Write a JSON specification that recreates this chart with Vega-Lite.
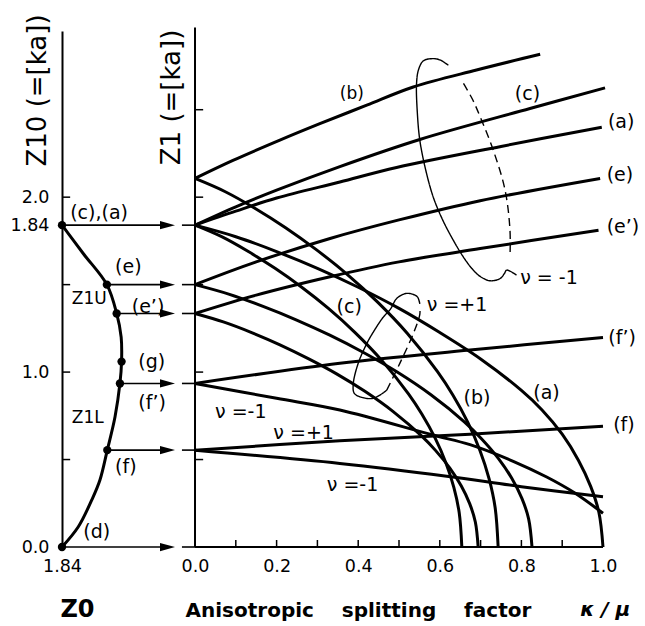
{
  "$schema": "https://vega.github.io/schema/vega-lite/v6.json",
  "autosize": {"type": "none"},
  "padding": {"left": 62, "top": 31, "right": 42, "bottom": 79},
  "width": 541,
  "height": 516,
  "background": "white",
  "config": {"view": {"stroke": null}, "font": "DejaVu Sans", "text": {"font": "DejaVu Sans", "color": "black"}},
  "resolve": {"axis": {"x": "independent", "y": "independent"}},
  "datasets": {
    "curves": [
      {"id":"z","x":-0.326,"y":1.84},{"id":"z","x":-0.274,"y":1.678},{"id":"z","x":-0.216,"y":1.5},{"id":"z","x":-0.192,"y":1.335},{"id":"z","x":-0.181,"y":1.2},{"id":"z","x":-0.18,"y":1.06},{"id":"z","x":-0.184,"y":0.935},{"id":"z","x":-0.196,"y":0.745},{"id":"z","x":-0.215,"y":0.554},{"id":"z","x":-0.233,"y":0.383},{"id":"z","x":-0.253,"y":0.269},{"id":"z","x":-0.286,"y":0.116},{"id":"z","x":-0.326,"y":0},
      {"id":"bu","x":0,"y":2.107},{"id":"bu","x":0.093,"y":2.21},{"id":"bu","x":0.208,"y":2.326},{"id":"bu","x":0.306,"y":2.42},{"id":"bu","x":0.421,"y":2.526},{"id":"bu","x":0.535,"y":2.63},{"id":"bu","x":0.69,"y":2.727},{"id":"bu","x":0.846,"y":2.817},
      {"id":"cu","x":0,"y":1.84},{"id":"cu","x":0.1,"y":1.945},{"id":"cu","x":0.2,"y":2.04},{"id":"cu","x":0.355,"y":2.175},{"id":"cu","x":0.551,"y":2.33},{"id":"cu","x":0.821,"y":2.507},{"id":"cu","x":1.005,"y":2.625},
      {"id":"au","x":0,"y":1.84},{"id":"au","x":0.1,"y":1.92},{"id":"au","x":0.2,"y":1.995},{"id":"au","x":0.355,"y":2.087},{"id":"au","x":0.494,"y":2.17},{"id":"au","x":0.75,"y":2.29},{"id":"au","x":0.997,"y":2.4},
      {"id":"eu","x":0,"y":1.5},{"id":"eu","x":0.15,"y":1.63},{"id":"eu","x":0.331,"y":1.764},{"id":"eu","x":0.5,"y":1.87},{"id":"eu","x":0.699,"y":1.98},{"id":"eu","x":0.993,"y":2.107},
      {"id":"epu","x":0,"y":1.335},{"id":"epu","x":0.15,"y":1.44},{"id":"epu","x":0.331,"y":1.545},{"id":"epu","x":0.5,"y":1.63},{"id":"epu","x":0.699,"y":1.706},{"id":"epu","x":0.989,"y":1.811},
      {"id":"fpu","x":0,"y":0.935},{"id":"fpu","x":0.355,"y":1.05},{"id":"fpu","x":0.674,"y":1.126},{"id":"fpu","x":1.0,"y":1.198},
      {"id":"fu","x":0,"y":0.553},{"id":"fu","x":0.355,"y":0.607},{"id":"fu","x":0.674,"y":0.645},{"id":"fu","x":1.0,"y":0.691},
      {"id":"l1","x":0,"y":0.935},{"id":"l1","x":0.2,"y":0.85},{"id":"l1","x":0.355,"y":0.783},{"id":"l1","x":0.583,"y":0.64},{"id":"l1","x":0.674,"y":0.585},{"id":"l1","x":0.78,"y":0.49},{"id":"l1","x":0.862,"y":0.4},{"id":"l1","x":0.93,"y":0.31},{"id":"l1","x":1.0,"y":0.193},
      {"id":"l2","x":0,"y":0.553},{"id":"l2","x":0.355,"y":0.478},{"id":"l2","x":0.617,"y":0.405},{"id":"l2","x":0.8,"y":0.345},{"id":"l2","x":1.0,"y":0.287},
      {"id":"bd","x":0,"y":2.107},{"id":"bd","x":0.0743,"y":2.031},{"id":"bd","x":0.1486,"y":1.934},{"id":"bd","x":0.2229,"y":1.824},{"id":"bd","x":0.2972,"y":1.7},{"id":"bd","x":0.3715,"y":1.562},{"id":"bd","x":0.4458,"y":1.404},{"id":"bd","x":0.5201,"y":1.222},{"id":"bd","x":0.5944,"y":1.002},{"id":"bd","x":0.6316,"y":0.87},{"id":"bd","x":0.6687,"y":0.712},{"id":"bd","x":0.6984,"y":0.552},{"id":"bd","x":0.7207,"y":0.391},{"id":"bd","x":0.7356,"y":0.226},{"id":"bd","x":0.743,"y":0},
      {"id":"ad","x":0,"y":1.84},{"id":"ad","x":0.1,"y":1.774},{"id":"ad","x":0.2,"y":1.689},{"id":"ad","x":0.3,"y":1.593},{"id":"ad","x":0.4,"y":1.485},{"id":"ad","x":0.5,"y":1.364},{"id":"ad","x":0.6,"y":1.226},{"id":"ad","x":0.7,"y":1.075},{"id":"ad","x":0.8,"y":0.895},{"id":"ad","x":0.85,"y":0.785},{"id":"ad","x":0.9,"y":0.645},{"id":"ad","x":0.94,"y":0.495},{"id":"ad","x":0.97,"y":0.345},{"id":"ad","x":0.99,"y":0.197},{"id":"ad","x":1.0,"y":0},
      {"id":"cd","x":0,"y":1.84},{"id":"cd","x":0.0654,"y":1.774},{"id":"cd","x":0.1308,"y":1.689},{"id":"cd","x":0.1962,"y":1.593},{"id":"cd","x":0.2616,"y":1.485},{"id":"cd","x":0.327,"y":1.364},{"id":"cd","x":0.3924,"y":1.226},{"id":"cd","x":0.4578,"y":1.067},{"id":"cd","x":0.5232,"y":0.875},{"id":"cd","x":0.5559,"y":0.76},{"id":"cd","x":0.5886,"y":0.622},{"id":"cd","x":0.6148,"y":0.482},{"id":"cd","x":0.6344,"y":0.341},{"id":"cd","x":0.6475,"y":0.197},{"id":"cd","x":0.654,"y":0},
      {"id":"ed","x":0,"y":1.5},{"id":"ed","x":0.0826,"y":1.446},{"id":"ed","x":0.1652,"y":1.377},{"id":"ed","x":0.2478,"y":1.299},{"id":"ed","x":0.3304,"y":1.211},{"id":"ed","x":0.413,"y":1.112},{"id":"ed","x":0.4956,"y":1.0},{"id":"ed","x":0.5782,"y":0.87},{"id":"ed","x":0.6608,"y":0.714},{"id":"ed","x":0.7021,"y":0.619},{"id":"ed","x":0.7434,"y":0.507},{"id":"ed","x":0.7764,"y":0.393},{"id":"ed","x":0.8012,"y":0.278},{"id":"ed","x":0.8177,"y":0.161},{"id":"ed","x":0.826,"y":0},
      {"id":"epd","x":0,"y":1.335},{"id":"epd","x":0.0694,"y":1.287},{"id":"epd","x":0.1388,"y":1.226},{"id":"epd","x":0.2082,"y":1.156},{"id":"epd","x":0.2776,"y":1.077},{"id":"epd","x":0.347,"y":0.99},{"id":"epd","x":0.4164,"y":0.89},{"id":"epd","x":0.4858,"y":0.774},{"id":"epd","x":0.5552,"y":0.635},{"id":"epd","x":0.5899,"y":0.551},{"id":"epd","x":0.6246,"y":0.451},{"id":"epd","x":0.6524,"y":0.35},{"id":"epd","x":0.6732,"y":0.248},{"id":"epd","x":0.6871,"y":0.143},{"id":"epd","x":0.694,"y":0}
    ],
    "loops": [
      {"id":"bigs","s":"solid","x":0.621,"y":2.754},{"id":"bigs","s":"solid","x":0.6,"y":2.785},{"id":"bigs","s":"solid","x":0.583,"y":2.792},{"id":"bigs","s":"solid","x":0.56,"y":2.78},{"id":"bigs","s":"solid","x":0.548,"y":2.73},{"id":"bigs","s":"solid","x":0.543,"y":2.65},{"id":"bigs","s":"solid","x":0.545,"y":2.48},{"id":"bigs","s":"solid","x":0.551,"y":2.326},{"id":"bigs","s":"solid","x":0.565,"y":2.16},{"id":"bigs","s":"solid","x":0.584,"y":2.0},{"id":"bigs","s":"solid","x":0.607,"y":1.87},{"id":"bigs","s":"solid","x":0.633,"y":1.754},{"id":"bigs","s":"solid","x":0.66,"y":1.65},{"id":"bigs","s":"solid","x":0.682,"y":1.583},{"id":"bigs","s":"solid","x":0.7,"y":1.545},{"id":"bigs","s":"solid","x":0.723,"y":1.522},{"id":"bigs","s":"solid","x":0.748,"y":1.535},{"id":"bigs","s":"solid","x":0.758,"y":1.562},{"id":"bigs","s":"solid","x":0.764,"y":1.583},{"id":"bigs","s":"solid","x":0.788,"y":1.554},
      {"id":"bigd","s":"dash","x":0.658,"y":2.65},{"id":"bigd","s":"dash","x":0.68,"y":2.56},{"id":"bigd","s":"dash","x":0.699,"y":2.459},{"id":"bigd","s":"dash","x":0.731,"y":2.269},{"id":"bigd","s":"dash","x":0.76,"y":2.04},{"id":"bigd","s":"dash","x":0.772,"y":1.811},{"id":"bigd","s":"dash","x":0.772,"y":1.659},
      {"id":"sms","s":"solid","x":0.551,"y":1.39},{"id":"sms","s":"solid","x":0.545,"y":1.43},{"id":"sms","s":"solid","x":0.527,"y":1.449},{"id":"sms","s":"solid","x":0.513,"y":1.447},{"id":"sms","s":"solid","x":0.494,"y":1.42},{"id":"sms","s":"solid","x":0.479,"y":1.36},{"id":"sms","s":"solid","x":0.462,"y":1.316},{"id":"sms","s":"solid","x":0.44,"y":1.24},{"id":"sms","s":"solid","x":0.421,"y":1.163},{"id":"sms","s":"solid","x":0.4,"y":1.05},{"id":"sms","s":"solid","x":0.388,"y":0.935},{"id":"sms","s":"solid","x":0.39,"y":0.88},{"id":"sms","s":"solid","x":0.404,"y":0.859},{"id":"sms","s":"solid","x":0.437,"y":0.85},{"id":"sms","s":"solid","x":0.47,"y":0.897},
      {"id":"smd","s":"dash","x":0.47,"y":0.897},{"id":"smd","s":"dash","x":0.502,"y":1.05},{"id":"smd","s":"dash","x":0.535,"y":1.22},{"id":"smd","s":"dash","x":0.551,"y":1.33},{"id":"smd","s":"dash","x":0.551,"y":1.373}
    ],
    "arrows": [
      {"x":-0.326,"y":1.84},{"x":-0.216,"y":1.5},{"x":-0.192,"y":1.335},{"x":-0.184,"y":0.935},{"x":-0.215,"y":0.554},{"x":-0.326,"y":0}
    ],
    "dots": [
      {"x":-0.326,"y":1.84},{"x":-0.216,"y":1.5},{"x":-0.192,"y":1.335},{"x":-0.18,"y":1.06},{"x":-0.184,"y":0.935},{"x":-0.215,"y":0.554},{"x":-0.326,"y":0}
    ],
    "rticks": [{"y":0.5},{"y":1.0},{"y":1.5},{"y":2.0},{"y":2.5}],
    "lticks": [{"y":0.5},{"y":1.0},{"y":1.5},{"y":2.0}],
    "bticks": [{"x":0.1},{"x":0.2},{"x":0.3},{"x":0.4},{"x":0.5},{"x":0.6},{"x":0.7},{"x":0.8},{"x":0.9},{"x":1.0}],
    "labels": [
      {"t":"(c)","x":0.784,"y":2.592},{"t":"(a)","x":1.012,"y":2.43},{"t":"(e)","x":1.009,"y":2.126},{"t":"(e’)","x":1.009,"y":1.83},
      {"t":"ν = -1","x":0.797,"y":1.537},{"t":"(c)","x":0.347,"y":1.37},{"t":"ν =+1","x":0.568,"y":1.383},{"t":"(f’)","x":1.013,"y":1.194},
      {"t":"(b)","x":0.658,"y":0.85},{"t":"(a)","x":0.829,"y":0.878},{"t":"(f)","x":1.025,"y":0.697},
      {"t":"ν =-1","x":0.049,"y":0.773},{"t":"ν =+1","x":0.192,"y":0.653},{"t":"ν =-1","x":0.323,"y":0.354},
      {"t":"(c),(a)","x":-0.306,"y":1.909},{"t":"(e)","x":-0.196,"y":1.6},{"t":"(e’)","x":-0.155,"y":1.373},{"t":"(g)","x":-0.139,"y":1.059},{"t":"(f’)","x":-0.139,"y":0.821},{"t":"(f)","x":-0.196,"y":0.459},{"t":"(d)","x":-0.274,"y":0.087}
    ],
    "small": [
      {"t":"(b)","x":0.355,"y":2.589},{"t":"Z1U","x":-0.302,"y":1.415},{"t":"Z1L","x":-0.302,"y":0.735}
    ]
  },
  "layer": [
    {
      "data": {"name": "curves"},
      "mark": {"type": "line", "color": "black", "strokeWidth": 3, "interpolate": "catmull-rom"},
      "encoding": {
        "x": {"field": "x", "type": "quantitative",
          "scale": {"domain": [-0.326, 1.0], "nice": false, "zero": false},
          "axis": {"values": [-0.326, 0, 0.2, 0.4, 0.6, 0.8, 1.0],
            "labelExpr": "datum.value < -0.1 ? '1.84' : format(datum.value, '.1f')",
            "domain": false, "ticks": false, "grid": false, "labelFlush": false, "labelOverlap": false,
            "labelFontSize": 17.5, "labelColor": "black", "labelPadding": 10, "labelFont": "DejaVu Sans",
            "title": "Anisotropic\u00a0\u00a0\u00a0\u00a0splitting\u00a0\u00a0\u00a0\u00a0factor",
            "titleFont": "DejaVu Sans", "titleFontSize": 20, "titleFontWeight": "bold", "titleColor": "black",
            "titleX": 123, "titleY": 63, "titleAlign": "left", "titleBaseline": "middle"}},
        "y": {"field": "y", "type": "quantitative",
          "scale": {"domain": [0, 2.95], "nice": false, "zero": false},
          "axis": {"values": [0, 1, 1.84, 2],
            "labelExpr": "datum.value == 1.84 ? '1.84' : format(datum.value, '.1f')",
            "domain": true, "domainColor": "black", "domainWidth": 2, "ticks": false, "grid": false,
            "labelFontSize": 17.5, "labelColor": "black", "labelPadding": 13, "labelFont": "DejaVu Sans",
            "title": "Z10 (=[ka])", "titleFont": "DejaVu Sans", "titleFontSize": 26, "titleFontWeight": "normal", "titleColor": "black",
            "titleAngle": 270, "titleX": -25, "titleY": 59, "titleAlign": "center", "titleBaseline": "middle"}},
        "detail": {"field": "id"},
        "order": {"value": null}
      }
    },
    {
      "data": {"name": "loops"},
      "mark": {"type": "line", "color": "black", "strokeWidth": 1.4, "interpolate": "catmull-rom"},
      "encoding": {
        "x": {"field": "x", "type": "quantitative", "axis": null},
        "y": {"field": "y", "type": "quantitative", "axis": null},
        "detail": {"field": "id"},
        "strokeDash": {"field": "s", "type": "nominal", "scale": {"domain": ["solid", "dash"], "range": [[1, 0], [8, 5]]}, "legend": null},
        "order": {"value": null}
      }
    },
    {
      "data": {"name": "arrows"},
      "mark": {"type": "rule", "color": "black", "strokeWidth": 1.6},
      "encoding": {
        "x": {"field": "x", "type": "quantitative", "axis": null},
        "x2": {"datum": -0.062},
        "y": {"field": "y", "type": "quantitative", "axis": null}
      }
    },
    {
      "data": {"name": "arrows"},
      "mark": {"type": "rule", "color": "black", "strokeWidth": 1.6},
      "encoding": {
        "x": {"datum": -0.032, "type": "quantitative", "axis": null},
        "x2": {"datum": 0},
        "y": {"field": "y", "type": "quantitative", "axis": null}
      }
    },
    {
      "data": {"name": "arrows"},
      "mark": {"type": "point", "filled": true, "color": "black", "opacity": 1, "shape": "M-1,-0.55L1,0L-1,0.55Z", "size": 225},
      "encoding": {
        "x": {"datum": -0.0674, "type": "quantitative", "axis": null},
        "y": {"field": "y", "type": "quantitative", "axis": null}
      }
    },
    {
      "data": {"name": "dots"},
      "mark": {"type": "point", "filled": true, "color": "black", "opacity": 1, "size": 70},
      "encoding": {
        "x": {"field": "x", "type": "quantitative", "axis": null},
        "y": {"field": "y", "type": "quantitative", "axis": null}
      }
    },
    {
      "data": {"values": [{"a": 1}]},
      "mark": {"type": "rule", "color": "black", "strokeWidth": 2},
      "encoding": {
        "x": {"datum": 0, "type": "quantitative", "axis": null},
        "y": {"datum": 0, "type": "quantitative", "axis": null},
        "y2": {"datum": 2.97}
      }
    },
    {
      "data": {"values": [{"a": 1}]},
      "mark": {"type": "rule", "color": "black", "strokeWidth": 2},
      "encoding": {
        "x": {"datum": 0, "type": "quantitative", "axis": null},
        "x2": {"datum": 1.0},
        "y": {"datum": 0, "type": "quantitative", "axis": null}
      }
    },
    {
      "data": {"name": "rticks"},
      "mark": {"type": "rule", "color": "black", "strokeWidth": 1.5},
      "encoding": {
        "x": {"datum": 0, "type": "quantitative", "axis": null},
        "x2": {"datum": 0.02},
        "y": {"field": "y", "type": "quantitative", "axis": null}
      }
    },
    {
      "data": {"name": "lticks"},
      "mark": {"type": "rule", "color": "black", "strokeWidth": 1.5},
      "encoding": {
        "x": {"datum": -0.326, "type": "quantitative", "axis": null},
        "x2": {"datum": -0.306},
        "y": {"field": "y", "type": "quantitative", "axis": null}
      }
    },
    {
      "data": {"name": "bticks"},
      "mark": {"type": "rule", "color": "black", "strokeWidth": 1.5},
      "encoding": {
        "x": {"field": "x", "type": "quantitative", "axis": null},
        "y": {"datum": 0, "type": "quantitative", "axis": null},
        "y2": {"datum": 0.04}
      }
    },
    {
      "data": {"name": "labels"},
      "mark": {"type": "text", "align": "left", "baseline": "middle", "fontSize": 19, "color": "black"},
      "encoding": {
        "x": {"field": "x", "type": "quantitative", "axis": null},
        "y": {"field": "y", "type": "quantitative", "axis": null},
        "text": {"field": "t"}
      }
    },
    {
      "data": {"name": "small"},
      "mark": {"type": "text", "align": "left", "baseline": "middle", "fontSize": 17, "color": "black"},
      "encoding": {
        "x": {"field": "x", "type": "quantitative", "axis": null},
        "y": {"field": "y", "type": "quantitative", "axis": null},
        "text": {"field": "t"}
      }
    },
    {
      "data": {"values": [{"t": "Z1 (=[ka])", "x": -0.056, "y": 2.57}]},
      "mark": {"type": "text", "align": "center", "baseline": "middle", "fontSize": 26, "angle": 270, "color": "black"},
      "encoding": {
        "x": {"field": "x", "type": "quantitative", "axis": null},
        "y": {"field": "y", "type": "quantitative", "axis": null},
        "text": {"field": "t"}
      }
    },
    {
      "data": {"values": [{"t": "Z0", "x": -0.288, "y": -0.36}]},
      "mark": {"type": "text", "align": "center", "baseline": "middle", "fontSize": 24, "fontWeight": "bold", "color": "black"},
      "encoding": {
        "x": {"field": "x", "type": "quantitative", "axis": null},
        "y": {"field": "y", "type": "quantitative", "axis": null},
        "text": {"field": "t"}
      }
    },
    {
      "data": {"values": [{"t": "κ / μ", "x": 0.944, "y": -0.36}]},
      "mark": {"type": "text", "align": "left", "baseline": "middle", "fontSize": 20, "fontWeight": "bold", "fontStyle": "italic", "color": "black"},
      "encoding": {
        "x": {"field": "x", "type": "quantitative", "axis": null},
        "y": {"field": "y", "type": "quantitative", "axis": null},
        "text": {"field": "t"}
      }
    }
  ]
}
